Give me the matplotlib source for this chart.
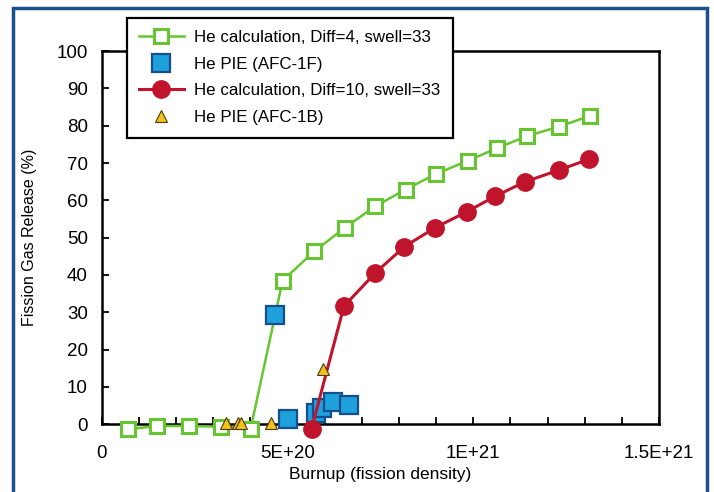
import matplotlib
matplotlib.use("Agg")
import matplotlib.pyplot as plt
from matplotlib.patches import Rectangle

plt.rcParams["font.family"] = ["Liberation Sans", "DejaVu Sans"]

# He calculation, Diff=4 (green)
calc4_x = [0.71e20, 1.49e20, 2.34e20, 3.21e20, 4.01e20, 4.87e20, 5.72e20, 6.55e20,
           7.36e20, 8.18e20, 9.00e20, 9.85e20, 10.64e20, 11.44e20, 12.31e20, 13.13e20]
calc4_y = [-1.4, -0.5, -0.5, -0.7, -1.2, 38.5, 46.3, 52.7, 58.4, 62.9, 67.1, 70.6,
           74.0, 77.2, 79.8, 82.6]

# He calculation, Diff=10 (red)
calc10_x = [5.65e20, 6.52e20, 7.36e20, 8.15e20, 8.98e20, 9.84e20, 10.59e20,
            11.40e20, 12.30e20, 13.11e20]
calc10_y = [-1.2, 31.6, 40.5, 47.6, 52.7, 57.0, 61.1, 65.0, 68.1, 71.0]

# PIE AFC-1F (blue squares)
pie1f_x = [4.67e20, 5.01e20, 5.78e20, 5.92e20, 6.23e20, 6.65e20]
pie1f_y = [29.2, 1.3, 3.1, 4.2, 5.8, 5.1]

# PIE AFC-1B (yellow triangles)
pie1b_x = [3.35e20, 3.66e20, 3.76e20, 4.56e20, 5.96e20]
pie1b_y = [0.3, 0.3, 0.3, 0.3, 14.9]

xticks = [0, 5e20, 1e21, 1.5e21]
xtick_labels = ["0", "5E+20", "1E+21", "1.5E+21"]
yticks = list(range(0, 101, 10))

fig = plt.figure(figsize=(7.14, 4.92), dpi=100)
ax = fig.add_axes([0.1424, 0.138, 0.7806, 0.758])

ax.plot(calc4_x, calc4_y, color="#66c530", lw=1.8, marker="s", ms=9.5,
        mfc="white", mec="#66c530", mew=2.2, clip_on=False, zorder=3,
        label="He calculation, Diff=4, swell=33")
ax.plot(pie1f_x, pie1f_y, ls="none", marker="s", ms=13, mfc="#1ea0dc",
        mec="#174f8c", mew=1.6, clip_on=False, zorder=4,
        label="He PIE (AFC-1F)")
ax.plot(calc10_x, calc10_y, color="#c0142d", lw=2.2, marker="o", ms=12.5,
        mfc="#c0142d", mec="#c0142d", clip_on=False, zorder=5,
        label="He calculation, Diff=10, swell=33")
ax.plot(pie1b_x, pie1b_y, ls="none", marker="^", ms=8, mfc="#f2c21b",
        mec="#4a3a10", mew=0.8, clip_on=False, zorder=6,
        label="He PIE (AFC-1B)")

ax.set_xlim(0, 1.5e21)
ax.set_ylim(0, 100)
ax.set_xticks(xticks)
ax.set_xticklabels(xtick_labels)
ax.set_xticks([i * 1e20 for i in range(16)], minor=True)
ax.set_yticks(yticks)
ax.tick_params(axis="both", which="both", direction="in", labelsize=13.5,
               width=1.3, length=5)
ax.tick_params(axis="x", which="major", pad=15, length=5)
ax.tick_params(axis="y", pad=10)
for sp in ax.spines.values():
    sp.set_linewidth(1.8)

ax.set_xlabel("Burnup (fission density)", fontsize=12.5, labelpad=4)
ax.set_ylabel("Fission Gas Release (%)", fontsize=11.5, labelpad=14)

leg = ax.legend(loc="upper left", bbox_to_anchor=(0.045, 1.09), fontsize=12.2,
                frameon=True, fancybox=False, edgecolor="black", framealpha=1,
                handlelength=2.6, handletextpad=0.6, labelspacing=0.68,
                borderpad=0.75, borderaxespad=0)
leg.get_frame().set_linewidth(1.6)
leg.set_zorder(10)

# blue outer frame
fig.patches.append(Rectangle((13 / 714, -0.01), 694 / 714, (492 - 8) / 492 + 0.01,
                             transform=fig.transFigure, fill=False,
                             edgecolor="#1b4f8e", lw=2.5))

fig.savefig("out.png", dpi=100)
plt.close()
